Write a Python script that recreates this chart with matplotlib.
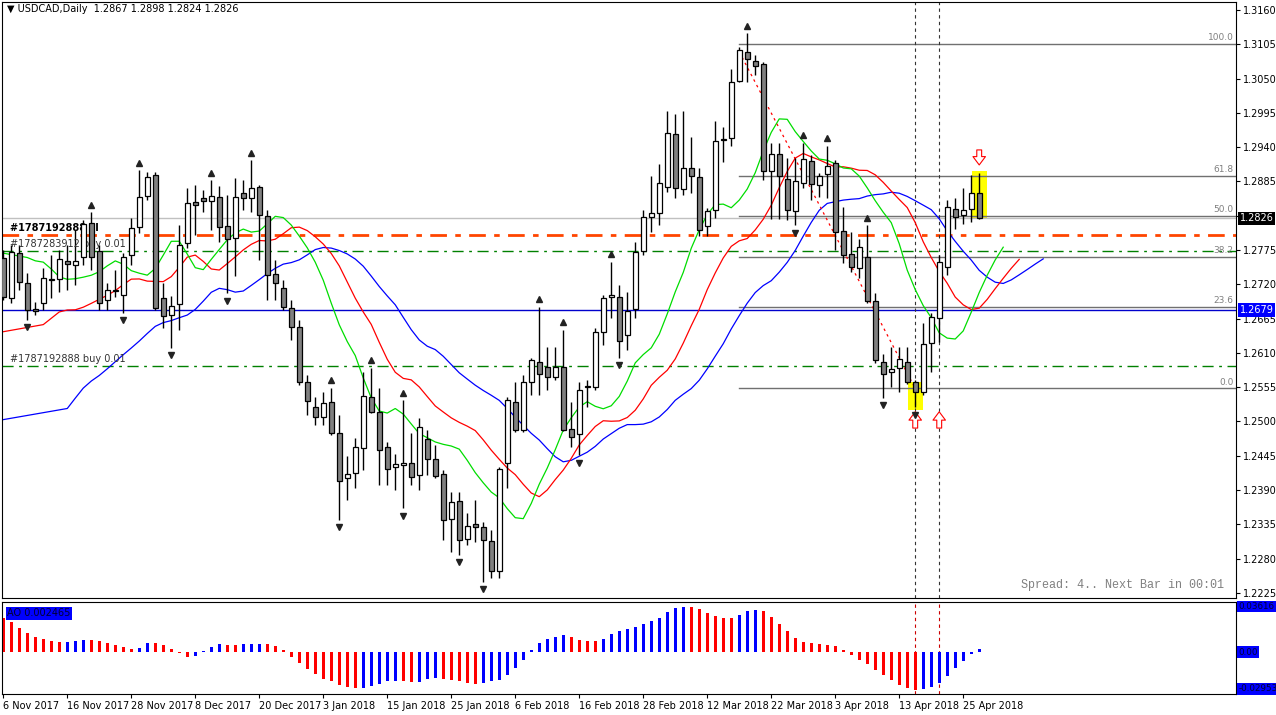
import matplotlib
matplotlib.use("Agg")
import matplotlib.pyplot as plt
import numpy as np
import pandas as pd

# daily bars, 6 Nov 2017 .. 27 Apr 2018 (no bars on 25 Dec / 1 Jan)
dates = [d for d in pd.bdate_range('2017-11-06', '2018-04-27')
         if not (d.month == 12 and d.day == 25) and not (d.month == 1 and d.day == 1)]

opens = [1.2762,1.2698,1.2770,1.2722,1.2681,1.2690,1.2727,1.2729,1.2757,1.2751,
         1.2764,1.2818,1.2774,1.2695,1.2709,1.2703,1.2767,1.2812,1.2862,1.2895,
         1.2698,1.2671,1.2688,1.2786,1.2852,1.2858,1.2854,1.2860,1.2814,1.2794,
         1.2866,1.2858,1.2876,1.2830,1.2737,1.2714,1.2682,1.2652,1.2563,1.2523,
         1.2507,1.2531,1.2481,1.2409,1.2417,1.2457,1.2539,1.2515,1.2459,1.2427,
         1.2430,1.2433,1.2414,1.2472,1.2440,1.2416,1.2344,1.2372,1.2312,1.2336,
         1.2331,1.2308,1.2260,1.2433,1.2531,1.2486,1.2563,1.2595,1.2587,1.2571,
         1.2587,1.2488,1.2480,1.2555,1.2555,1.2644,1.2700,1.2700,1.2639,1.2680,
         1.2773,1.2828,1.2834,1.2876,1.2961,1.2873,1.2907,1.2892,1.2813,1.2839,
         1.2951,1.2955,1.3046,1.3093,1.3078,1.3073,1.2902,1.2929,1.2889,1.2838,
         1.2883,1.2918,1.2879,1.2897,1.2915,1.2806,1.2769,1.2746,1.2764,1.2693,
         1.2595,1.2579,1.2586,1.2595,1.2563,1.2547,1.2626,1.2666,1.2748,1.2841,
         1.2831,1.2841,1.2867]
highs = [1.2775,1.2783,1.2783,1.2738,1.2692,1.2746,1.2767,1.2775,1.2783,1.2807,
         1.2823,1.2836,1.2783,1.2722,1.2743,1.2770,1.2826,1.2903,1.2900,1.2900,
         1.2722,1.2701,1.2815,1.2874,1.2879,1.2871,1.2887,1.2878,1.2863,1.2891,
         1.2887,1.2919,1.2879,1.2839,1.2759,1.2727,1.2695,1.2663,1.2575,1.2539,
         1.2547,1.2554,1.2510,1.2445,1.2473,1.2579,1.2586,1.2554,1.2467,1.2448,
         1.2534,1.2482,1.2506,1.2486,1.2462,1.2422,1.2387,1.2387,1.2353,1.2374,
         1.2339,1.2326,1.2427,1.2539,1.2563,1.2575,1.2602,1.2684,1.2619,1.2619,
         1.2647,1.2531,1.2563,1.2566,1.2650,1.2703,1.2756,1.2719,1.2708,1.2788,
         1.2839,1.2894,1.2913,1.2998,1.2993,1.2998,1.2956,1.2907,1.2842,1.2982,
         1.2972,1.3065,1.3101,1.3123,1.3088,1.3077,1.2947,1.2947,1.2923,1.2923,
         1.2947,1.2927,1.2899,1.2942,1.2919,1.2844,1.2804,1.2793,1.2815,1.2706,
         1.2608,1.2619,1.2619,1.2619,1.2566,1.2658,1.2674,1.2767,1.2855,1.2858,
         1.2874,1.2895,1.2898]
lows = [1.2695,1.2690,1.2711,1.2663,1.2671,1.2679,1.2698,1.2708,1.2711,1.2719,
        1.2751,1.2743,1.2679,1.2679,1.2700,1.2674,1.2751,1.2802,1.2855,1.2679,
        1.2650,1.2618,1.2647,1.2778,1.2799,1.2836,1.2807,1.2788,1.2706,1.2733,
        1.2839,1.2836,1.2759,1.2695,1.2695,1.2679,1.2631,1.2559,1.2510,1.2494,
        1.2494,1.2478,1.2342,1.2374,1.2393,1.2422,1.2514,1.2398,1.2398,1.2390,
        1.2361,1.2398,1.2390,1.2414,1.2409,1.2310,1.2291,1.2286,1.2302,1.2307,
        1.2243,1.2249,1.2249,1.2393,1.2483,1.2483,1.2542,1.2542,1.2550,1.2566,
        1.2484,1.2459,1.2446,1.2523,1.2550,1.2623,1.2666,1.2602,1.2615,1.2666,
        1.2767,1.2804,1.2815,1.2868,1.2858,1.2863,1.2866,1.2797,1.2797,1.2826,
        1.2916,1.2942,1.3044,1.3044,1.3056,1.2887,1.2825,1.2825,1.2823,1.2815,
        1.2875,1.2855,1.2860,1.2858,1.2775,1.2754,1.2740,1.2730,1.2690,1.2594,
        1.2538,1.2555,1.2547,1.2560,1.2523,1.2542,1.2579,1.2627,1.2735,1.2809,
        1.2817,1.2820,1.2824]
closes = [1.2700,1.2772,1.2724,1.2679,1.2677,1.2730,1.2729,1.2761,1.2753,1.2757,
          1.2817,1.2764,1.2690,1.2711,1.2711,1.2764,1.2810,1.2860,1.2892,1.2682,
          1.2669,1.2685,1.2783,1.2850,1.2847,1.2854,1.2862,1.2812,1.2793,1.2860,
          1.2858,1.2874,1.2831,1.2735,1.2722,1.2684,1.2652,1.2563,1.2533,1.2507,
          1.2530,1.2481,1.2405,1.2416,1.2459,1.2541,1.2515,1.2454,1.2424,1.2432,
          1.2433,1.2411,1.2491,1.2440,1.2413,1.2342,1.2371,1.2310,1.2332,1.2331,
          1.2310,1.2260,1.2424,1.2534,1.2486,1.2563,1.2599,1.2576,1.2571,1.2587,
          1.2486,1.2475,1.2551,1.2557,1.2644,1.2698,1.2703,1.2629,1.2677,1.2772,
          1.2828,1.2834,1.2882,1.2963,1.2874,1.2907,1.2894,1.2807,1.2838,1.2950,
          1.2953,1.3044,1.3096,1.3081,1.3070,1.2902,1.2929,1.2894,1.2839,1.2886,
          1.2921,1.2881,1.2894,1.2910,1.2804,1.2767,1.2748,1.2780,1.2693,1.2599,
          1.2576,1.2584,1.2600,1.2563,1.2547,1.2624,1.2668,1.2756,1.2844,1.2828,
          1.2839,1.2866,1.2826]

# Awesome Oscillator values
ao = [0.0274,0.0242,0.0194,0.0154,0.0122,0.0106,0.0090,0.0082,0.0083,0.0090,
      0.0098,0.0098,0.0090,0.0074,0.0058,0.0043,0.0027,0.0035,0.0074,0.0074,
      0.0058,0.0027,-0.0011,-0.0037,-0.0029,0.0008,0.0043,0.0066,0.0058,0.0058,
      0.0060,0.0066,0.0067,0.0066,0.0050,0.0019,-0.0037,-0.0085,-0.0133,-0.0173,
      -0.0213,-0.0229,-0.0261,-0.0277,-0.0285,-0.0284,-0.0269,-0.0253,-0.0229,-0.0228,
      -0.0229,-0.0238,-0.0237,-0.0213,-0.0205,-0.0213,-0.0221,-0.0229,-0.0245,-0.0253,
      -0.0245,-0.0229,-0.0224,-0.0186,-0.0130,-0.0066,0.0013,0.0074,0.0106,0.0122,
      0.0138,0.0122,0.0098,0.0090,0.0089,0.0106,0.0146,0.0170,0.0186,0.0202,
      0.0226,0.0250,0.0274,0.0322,0.0354,0.0363,0.0362,0.0346,0.0314,0.0290,
      0.0274,0.0273,0.0298,0.0330,0.0338,0.0330,0.0282,0.0226,0.0170,0.0114,
      0.0082,0.0074,0.0066,0.0058,0.0050,0.0019,-0.0021,-0.0061,-0.0093,-0.0141,
      -0.0181,-0.0221,-0.0261,-0.0290,-0.0301,-0.0293,-0.0277,-0.0245,-0.0194,-0.0125,
      -0.0069,-0.0018,0.0025]

# Alligator starting values seen at the left edge (jaw, teeth, lips)
gator_start = {'jaw': 1.2503, 'teeth': 1.2644, 'lips': 1.2770}

order_lines = [('#1787192888 sl', 1.2799), ('#1787283912 buy 0.01', 1.2773),
               ('#1787192888 buy 0.01', 1.2589)]
fib_low, fib_high = 1.2553, 1.3105
fib_levels = [0.0, 23.6, 38.2, 50.0, 61.8, 100.0]
price_ticks = [1.2225 + 0.0055 * k for k in range(18)]

o, h, l, c = map(np.array, (opens, highs, lows, closes))
n = len(c)
x = np.arange(n)

W, H = 1276, 715
fig = plt.figure(figsize=(W / 100, H / 100), dpi=100)
ax = fig.add_axes([2 / W, (H - 598) / H, 1234 / W, 596 / H])
ax2 = fig.add_axes([2 / W, (H - 694) / H, 1234 / W, 92 / H])
xmin, xmax = -0.16, 154.1
ax.set_xlim(xmin, xmax)
ax.set_ylim(1.22169, 1.31728)
ax2.set_xlim(xmin, xmax)
ax2.set_ylim(-0.0335, 0.0399)

# candles
ax.vlines(x, l, h, color='black', lw=1, zorder=3)
up = c >= o
body_lo = np.minimum(o, c)
body_h = np.maximum(np.abs(c - o), 0.00008)
ax.bar(x, body_h, bottom=body_lo, width=0.62,
       color=np.where(up, 'white', '#808080'), edgecolor='black', lw=0.9, zorder=4)

# alligator (SMMA of median price, shifted forward)
med = (h + l) / 2
for name, period, shift, col in [('jaw', 13, 8, '#0000ff'), ('teeth', 8, 5, '#ff0000'),
                                  ('lips', 5, 3, '#00dd00')]:
    s = gator_start[name]
    vals = []
    for m in med:
        s = (s * (period - 1) + m) / period
        vals.append(s)
    ax.plot([0] + list(x + shift), [gator_start[name]] + vals, color=col, lw=0.9, zorder=2)

# fractals
for i in range(2, n - 2):
    if h[i] > max(h[i - 2], h[i - 1], h[i + 1], h[i + 2]):
        ax.plot(i, h[i] + 0.0012, marker='^', color='#222222', ms=5, zorder=5)
    if l[i] < min(l[i - 2], l[i - 1], l[i + 1], l[i + 2]):
        ax.plot(i, l[i] - 0.0012, marker='v', color='#222222', ms=5, zorder=5)

# order lines
ax.axhline(order_lines[0][1], color='#ff4500', lw=2, ls=(0, (6, 3, 2, 3)), zorder=1)
for lbl, p in order_lines[1:]:
    ax.axhline(p, color='#008000', lw=1, ls=(0, (8, 4, 2, 4)), zorder=1)
ax.text(0.8, order_lines[0][1] + 0.0004, '#1787192888 sl', fontsize=7, fontweight='bold', va='bottom')
ax.text(0.8, order_lines[1][1] + 0.0004, '#1787283912 buy 0.01', fontsize=7, color='#333333', va='bottom')
ax.text(0.8, order_lines[2][1] + 0.0004, '#1787192888 buy 0.01', fontsize=7, color='#333333', va='bottom')
ax.axhline(closes[-1], color='#c0c0c0', lw=1, zorder=1)
ax.axhline(1.2679, color='#0000cc', lw=1, zorder=1)

# fibonacci
for lv in fib_levels:
    p = fib_low + (fib_high - fib_low) * lv / 100
    ax.plot([92, xmax], [p, p], color='#707070', lw=1, zorder=1)
    ax.text(xmax - 0.3, p + 0.0003, f'{lv:.1f}', fontsize=6.5, color='#808080', ha='right', va='bottom')
ax.plot([92, 114], [fib_high - 0.0012, fib_low], color='red', lw=0.9, ls=(0, (2, 3)), zorder=2)

# vertical markers, highlights, arrows
for vx in (114, 117):
    ax.axvline(vx, color='#333333', lw=0.8, ls=(0, (3, 3)), zorder=1)
    ax2.axvline(vx, color='#cc0000', lw=0.8, ls=(0, (3, 3)), zorder=1)
    ax.annotate('', xy=(vx, 1.2520), xytext=(vx, 1.2485),
                arrowprops=dict(arrowstyle='simple,head_width=0.9,head_length=0.6,tail_width=0.35',
                                fc='white', ec='red', lw=0.8))
ax.annotate('', xy=(122, 1.2907), xytext=(122, 1.2940),
            arrowprops=dict(arrowstyle='simple,head_width=0.9,head_length=0.6,tail_width=0.35',
                            fc='white', ec='red', lw=0.8))
ax.bar(114, 0.0045, bottom=1.2518, width=1.9, color='#ffff00', zorder=0)
ax.bar(122, 0.0078, bottom=1.2824, width=1.9, color='#ffff00', zorder=0)

ax.text(0.004, 0.996, '\u25bc USDCAD,Daily  1.2867 1.2898 1.2824 1.2826', transform=ax.transAxes,
        fontsize=7, va='top')
ax.text(0.99, 0.012, 'Spread: 4.. Next Bar in 00:01', transform=ax.transAxes, fontsize=8.5,
        family='Liberation Mono', color='#808080', ha='right', va='bottom')

# price axis
ax.yaxis.tick_right()
ax.set_yticks(price_ticks)
ax.set_yticklabels(['' if abs(t - 1.2830) < 1e-6 else f'{t:.4f}' for t in price_ticks], fontsize=7)
ax.tick_params(axis='y', length=3, pad=2)
ax.set_xticks([])
ax.text(1.003, closes[-1], '1.2826', transform=ax.get_yaxis_transform(), fontsize=7, color='white',
        va='center', bbox=dict(fc='black', ec='none', pad=1.2))
ax.text(1.003, 1.2679, '1.2679', transform=ax.get_yaxis_transform(), fontsize=7, color='white',
        va='center', bbox=dict(fc='#0000ff', ec='none', pad=1.2))

# AO histogram
aov = np.array(ao)
cols = ['red'] + ['#0000ff' if aov[i] > aov[i - 1] else 'red' for i in range(1, n)]
ax2.bar(x, aov, width=0.4, color=cols)
ax2.text(0.004, 0.93, 'AO 0.002465', transform=ax2.transAxes, fontsize=7, va='top',
         color='#000033', bbox=dict(fc='#0000ff', ec='none', pad=1))
ax2.set_yticks([])
for v, s in [(0.0362, '0.03616'), (0.0, '0.00'), (-0.0295, '-0.02953')]:
    ax2.text(1.002, v, s, transform=ax2.get_yaxis_transform(), fontsize=6.3, va='center',
             color='#000033', bbox=dict(fc='#0000ff', ec='none', pad=0.8))
ax2.set_xticks(x[::8])
ax2.set_xticklabels([f'{d.day} {d.strftime("%b %Y")}' for d in dates[::8]], fontsize=7,
                    ha='left')
ax2.tick_params(axis='x', length=3, pad=2)

for a in (ax, ax2):
    for sp in a.spines.values():
        sp.set_linewidth(0.8)

fig.savefig('out.png', dpi=100)
